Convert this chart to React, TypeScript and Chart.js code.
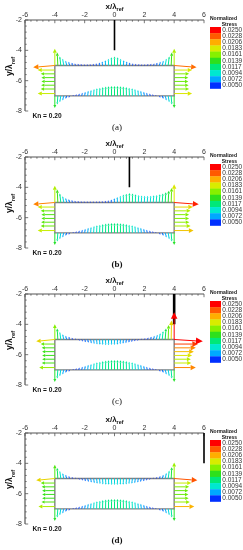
import React, { useEffect, useRef } from 'react';
import { Chart, registerables } from 'chart.js';

Chart.register(...registerables);

// ---------------- data ----------------
const PANEL_LABELS = ['(a)', '(b)', '(c)', '(d)'];
const PANEL_LABEL_BOLD = [false, true, false, true];
const PROBE_X = [0, 1, 4, 6];
const PROBE_WIDTH = [1.6, 1.6, 2.6, 1.6];
const PROBE_Y = [-2, -4];
const KN_TEXT = 'Kn = 0.20';

const BODY_X = [-4, 4, 4, -4, -4];
const BODY_Y = [-5, -5, -7, -7, -5];
const TOP_SURFACE_Y = -5;
const BOTTOM_SURFACE_Y = -7;
const LEFT_SIDE_X = -4;
const RIGHT_SIDE_X = 4;

const SURFACE_X = [
  -4.0, -3.8, -3.6, -3.4, -3.2, -3.0, -2.8, -2.6, -2.4, -2.2, -2.0, -1.8, -1.6, -1.4,
  -1.2, -1.0, -0.8, -0.6, -0.4, -0.2, 0.0, 0.2, 0.4, 0.6, 0.8, 1.0, 1.2, 1.4, 1.6, 1.8,
  2.0, 2.2, 2.4, 2.6, 2.8, 3.0, 3.2, 3.4, 3.6, 3.8, 4.0,
];

// vertical components of stress vectors on the top surface (per panel)
const TOP_DY_A = [
  1.10, 0.85, 0.60, 0.45, 0.32, 0.24, 0.18, 0.14, 0.12, 0.10, 0.09, 0.09, 0.10, 0.12,
  0.15, 0.20, 0.27, 0.35, 0.45, 0.55, 0.60, 0.55, 0.45, 0.35, 0.27, 0.20, 0.15, 0.12,
  0.10, 0.09, 0.09, 0.10, 0.12, 0.14, 0.18, 0.24, 0.32, 0.45, 0.60, 0.85, 1.10,
];
const TOP_DY_B = [
  1.10, 0.85, 0.60, 0.42, 0.30, 0.22, 0.16, 0.12, 0.10, 0.09, 0.08, 0.08, 0.08, 0.08,
  0.08, 0.09, 0.10, 0.12, 0.15, 0.20, 0.28, 0.36, 0.45, 0.53, 0.58, 0.62, 0.60, 0.55,
  0.50, 0.46, 0.44, 0.44, 0.45, 0.47, 0.50, 0.55, 0.60, 0.68, 0.78, 0.95, 1.20,
];
const TOP_DY_C = [
  1.00, 0.72, 0.50, 0.35, 0.25, 0.18, 0.12, 0.07, -0.08, -0.13, -0.18, -0.22, -0.26, -0.30,
  -0.33, -0.35, -0.37, -0.38, -0.38, -0.37, -0.36, -0.34, -0.31, -0.28, -0.24, -0.20, -0.16, -0.12,
  -0.08, 0.06, 0.09, 0.13, 0.18, 0.24, 0.32, 0.42, 0.55, 0.72, 0.95, 1.25, 1.80,
];
const TOP_DY_D = [
  0.90, 0.70, 0.50, 0.35, 0.24, 0.16, 0.10, 0.06, -0.08, -0.13, -0.18, -0.23, -0.27, -0.31,
  -0.34, -0.37, -0.39, -0.41, -0.42, -0.43, -0.43, -0.43, -0.42, -0.41, -0.39, -0.37, -0.34, -0.31,
  -0.27, -0.23, -0.18, -0.13, -0.08, 0.06, 0.10, 0.16, 0.25, 0.36, 0.52, 0.75, 1.05,
];

// horizontal components of stress vectors on the top surface (per panel)
const TOP_DX_A = [
  0, -0.04, -0.07, -0.08, -0.08, -0.08, -0.07, -0.07, -0.06, -0.06, -0.05, -0.05, -0.05, -0.04,
  -0.04, -0.03, -0.03, -0.02, -0.01, -0.01, 0, 0.01, 0.01, 0.02, 0.03, 0.03, 0.04, 0.04,
  0.05, 0.05, 0.05, 0.06, 0.06, 0.07, 0.07, 0.08, 0.08, 0.08, 0.07, 0.04, 0,
];
const TOP_DX_B = [
  0, -0.04, -0.07, -0.08, -0.08, -0.08, -0.07, -0.07, -0.06, -0.06, -0.06, -0.05, -0.05, -0.05,
  -0.04, -0.04, -0.04, -0.03, -0.03, -0.03, -0.02, -0.02, -0.01, -0.01, -0.01, 0, 0.01, 0.01,
  0.02, 0.02, 0.02, 0.02, 0.03, 0.03, 0.03, 0.04, 0.04, 0.04, 0.04, 0.03, 0,
];
const TOP_DX_C = [
  0, -0.04, -0.07, -0.08, -0.08, -0.07, -0.06, -0.05, 0.08, 0.08, 0.07, 0.06, 0.05, 0.04,
  0.03, 0.02, 0.01, 0.01, 0, 0, -0.01, -0.01, -0.02, -0.03, -0.04, -0.05, -0.06, -0.07,
  -0.08, 0.05, 0.06, 0.07, 0.08, 0.08, 0.08, 0.07, 0.06, 0.05, 0.03, 0.02, 0,
];
const TOP_DX_D = [
  0, -0.04, -0.07, -0.08, -0.08, -0.07, -0.06, -0.05, 0.08, 0.08, 0.07, 0.06, 0.05, 0.05,
  0.04, 0.03, 0.02, 0.02, 0.01, 0.01, 0, -0.01, -0.01, -0.02, -0.02, -0.03, -0.04, -0.05,
  -0.05, -0.06, -0.07, -0.08, -0.08, 0.05, 0.06, 0.07, 0.08, 0.08, 0.07, 0.04, 0,
];

// bottom surface (same in all panels)
const BOTTOM_DY = [
  -0.80, -0.57, -0.42, -0.30, -0.20, -0.12, 0.06, 0.10, 0.15, 0.21, 0.27, 0.33, 0.39, 0.45,
  0.50, 0.54, 0.58, 0.61, 0.63, 0.65, 0.65, 0.65, 0.63, 0.61, 0.58, 0.54, 0.50, 0.45,
  0.39, 0.33, 0.27, 0.21, 0.15, 0.10, 0.06, -0.12, -0.20, -0.30, -0.42, -0.57, -0.80,
];
const BOTTOM_DX = [
  0, -0.04, -0.07, -0.08, -0.08, -0.07, 0.06, 0.06, 0.05, 0.05, 0.04, 0.04, 0.03, 0.03,
  0.02, 0.02, 0.01, 0.01, 0, 0, 0, 0, 0, -0.01, -0.01, -0.02, -0.02, -0.03,
  -0.03, -0.04, -0.04, -0.05, -0.05, -0.06, -0.06, 0.07, 0.08, 0.08, 0.07, 0.04, 0,
];

// side faces
const SIDE_Y = [-5.0, -5.3, -5.55, -5.8, -6.05, -6.3, -6.55, -6.85];
const SIDE_DY = [-0.12, 0, 0, 0, 0, 0, 0, 0];
const LEFT_DX_A = [-1.45, -1.15, -0.95, -0.9, -0.9, -0.92, -0.95, -1.15];
const RIGHT_DX_A = [1.5, 1.2, 1.0, 0.95, 0.95, 0.97, 1.0, 1.2];
const LEFT_DX_B = [-1.45, -1.15, -0.95, -0.9, -0.9, -0.92, -0.95, -1.15];
const RIGHT_DX_B = [1.65, 1.25, 1.1, 1.0, 1.0, 1.02, 1.1, 1.3];
const LEFT_DX_C = [-1.25, -0.95, -0.88, -0.85, -0.85, -0.85, -0.88, -1.05];
const RIGHT_DX_C = [1.92, 1.6, 1.45, 1.32, 1.2, 1.12, 1.15, 1.45];
const LEFT_DX_D = [-1.25, -0.95, -0.88, -0.85, -0.85, -0.85, -0.9, -1.1];
const RIGHT_DX_D = [1.55, 1.15, 1.0, 0.95, 0.95, 0.97, 1.05, 1.35];

// colour legend
const LEGEND_LEVELS = [0.025, 0.0228, 0.0206, 0.0183, 0.0161, 0.0139, 0.0117, 0.0094, 0.0072, 0.005];
const LEGEND_LABELS = ['0.0250', '0.0228', '0.0206', '0.0183', '0.0161', '0.0139', '0.0117', '0.0094', '0.0072', '0.0050'];
const LEGEND_COLORS = [
  '#ff0000', '#ff5a00', '#ffae00', '#d8ec00', '#86f000',
  '#2ee01c', '#00e878', '#00e8d0', '#00a8ff', '#0030ff',
];
// normalized stress of a vector of unit plotted length
const STRESS_OFFSET = 0.0035;
const STRESS_PER_UNIT = 0.0125;

const PANELS = [
  { topDy: TOP_DY_A, topDx: TOP_DX_A, leftDx: LEFT_DX_A, rightDx: RIGHT_DX_A },
  { topDy: TOP_DY_B, topDx: TOP_DX_B, leftDx: LEFT_DX_B, rightDx: RIGHT_DX_B },
  { topDy: TOP_DY_C, topDx: TOP_DX_C, leftDx: LEFT_DX_C, rightDx: RIGHT_DX_C },
  { topDy: TOP_DY_D, topDx: TOP_DX_D, leftDx: LEFT_DX_D, rightDx: RIGHT_DX_D },
];

// ---------------- layout ----------------
const W = 243;
const H = 137;
const PANEL_TOPS = [0, 137, 274, 413];
const SANS = '"Liberation Sans", Arial, Helvetica, sans-serif';
const SERIF = '"Liberation Serif", "Times New Roman", serif';

function hexToRgb(h: string) {
  const n = parseInt(h.slice(1), 16);
  return [(n >> 16) & 255, (n >> 8) & 255, n & 255];
}

function colorForStress(s: number) {
  const lo = LEGEND_LEVELS[LEGEND_LEVELS.length - 1];
  const hi = LEGEND_LEVELS[0];
  let t = ((hi - s) / (hi - lo)) * (LEGEND_COLORS.length - 1);
  t = Math.max(0, Math.min(LEGEND_COLORS.length - 1, t));
  const i = Math.floor(t);
  const j = Math.min(LEGEND_COLORS.length - 1, i + 1);
  const f = t - i;
  const a = hexToRgb(LEGEND_COLORS[i]);
  const b = hexToRgb(LEGEND_COLORS[j]);
  const c = a.map((v, k) => Math.round(v + (b[k] - v) * f));
  return `rgb(${c[0]},${c[1]},${c[2]})`;
}

function drawArrow(ctx: CanvasRenderingContext2D, x0: number, y0: number, x1: number, y1: number, color: string) {
  const dx = x1 - x0;
  const dy = y1 - y0;
  const L = Math.hypot(dx, dy);
  if (L < 0.3) return;
  const ux = dx / L;
  const uy = dy / L;
  const hl = Math.min(L * 0.6, Math.max(1.8, L * 0.24));
  const hw = hl * 0.5;
  const bx = x1 - ux * hl;
  const by = y1 - uy * hl;
  ctx.strokeStyle = color;
  ctx.fillStyle = color;
  ctx.lineWidth = 1;
  ctx.beginPath();
  ctx.moveTo(x0, y0);
  ctx.lineTo(bx, by);
  ctx.stroke();
  ctx.beginPath();
  ctx.moveTo(x1, y1);
  ctx.lineTo(bx - uy * hw, by + ux * hw);
  ctx.lineTo(bx + uy * hw, by - ux * hw);
  ctx.closePath();
  ctx.fill();
}

function drawSubText(ctx: CanvasRenderingContext2D, main: string, sub: string, size: number, x: number, y: number) {
  ctx.font = `bold ${size}px ${SANS}`;
  const w1 = ctx.measureText(main).width;
  ctx.font = `bold ${size * 0.68}px ${SANS}`;
  const w2 = ctx.measureText(sub).width;
  const start = x - (w1 + w2) / 2;
  ctx.textAlign = 'left';
  ctx.textBaseline = 'alphabetic';
  ctx.font = `bold ${size}px ${SANS}`;
  ctx.fillText(main, start, y);
  ctx.font = `bold ${size * 0.68}px ${SANS}`;
  ctx.fillText(sub, start + w1, y + size * 0.3);
}

function makePlugin(idx: number) {
  const p = PANELS[idx];
  return {
    id: 'vectorPanel',
    beforeDatasetsDraw(chart: any) {
      const { ctx, chartArea: a, scales } = chart;
      const xs = scales.x;
      const ys = scales.y;
      ctx.save();
      ctx.strokeStyle = '#555';
      ctx.lineWidth = 1.2;
      ctx.beginPath();
      ctx.moveTo(a.left, a.top);
      ctx.lineTo(a.right, a.top);
      ctx.moveTo(a.left, a.top);
      ctx.lineTo(a.left, a.bottom);
      ctx.stroke();
      ctx.lineWidth = 0.8;
      ctx.beginPath();
      xs.ticks.forEach((t: any) => {
        const px = xs.getPixelForValue(t.value);
        ctx.moveTo(px, a.top);
        ctx.lineTo(px, a.top + 3.2);
      });
      ys.ticks.forEach((t: any) => {
        const py = ys.getPixelForValue(t.value);
        ctx.moveTo(a.left, py);
        ctx.lineTo(a.left + 3.2, py);
      });
      for (let k = 0; k <= 30; k++) {
        if (k % 5 === 0) continue;
        const px = xs.getPixelForValue(xs.min + k * 0.4);
        ctx.moveTo(px, a.top);
        ctx.lineTo(px, a.top + 1.7);
      }
      for (let k = 0; k <= 15; k++) {
        if (k % 5 === 0) continue;
        const py = ys.getPixelForValue(ys.max - k * 0.4);
        ctx.moveTo(a.left, py);
        ctx.lineTo(a.left + 1.7, py);
      }
      ctx.stroke();
      ctx.restore();
    },
    afterDatasetsDraw(chart: any) {
      const { ctx, scales } = chart;
      const xs = scales.x;
      const ys = scales.y;
      const list: any[] = [];
      SURFACE_X.forEach((x, i) => {
        list.push([x, TOP_SURFACE_Y, p.topDx[i], p.topDy[i]]);
        list.push([x, BOTTOM_SURFACE_Y, BOTTOM_DX[i], BOTTOM_DY[i]]);
      });
      SIDE_Y.forEach((y, i) => {
        list.push([LEFT_SIDE_X, y, p.leftDx[i], SIDE_DY[i]]);
        list.push([RIGHT_SIDE_X, y, p.rightDx[i], SIDE_DY[i]]);
      });
      list.sort((u, v) => Math.hypot(u[2], u[3]) - Math.hypot(v[2], v[3]));
      ctx.save();
      list.forEach(([x, y, dx, dy]) => {
        const mag = Math.hypot(dx, dy);
        const col = colorForStress(STRESS_OFFSET + STRESS_PER_UNIT * mag);
        drawArrow(
          ctx,
          xs.getPixelForValue(x),
          ys.getPixelForValue(y),
          xs.getPixelForValue(x + dx),
          ys.getPixelForValue(y + dy),
          col
        );
      });
      ctx.restore();
    },
    afterDraw(chart: any) {
      const { ctx, chartArea: a } = chart;
      ctx.save();
      ctx.fillStyle = '#111';
      // axis titles
      drawSubText(ctx, 'x/λ', 'ref', 8, (a.left + a.right) / 2, 8.8);
      ctx.save();
      ctx.translate(12.2, (a.top + a.bottom) / 2 + 1);
      ctx.rotate(-Math.PI / 2);
      drawSubText(ctx, 'y/λ', 'ref', 8.5, 0, 0);
      ctx.restore();
      // Kn label
      ctx.font = `bold 6.6px ${SANS}`;
      ctx.textAlign = 'left';
      ctx.textBaseline = 'middle';
      ctx.fillText(KN_TEXT, 32.5, a.top + 96);
      // panel label
      ctx.font = `${PANEL_LABEL_BOLD[idx] ? 'bold ' : ''}9px ${SERIF}`;
      ctx.textAlign = 'center';
      ctx.fillText(PANEL_LABELS[idx], 117, 127.5);
      // legend
      const lx = a.right + 6;
      const barTop = a.top + 7;
      const bh = 6.15;
      ctx.font = `bold 5px ${SANS}`;
      ctx.textBaseline = 'alphabetic';
      ctx.textAlign = 'left';
      ctx.fillText('Normalized', lx, a.top + 0.3);
      ctx.textAlign = 'right';
      ctx.fillText('Stress', lx + 27, a.top + 5.8);
      LEGEND_COLORS.forEach((c, i) => {
        ctx.fillStyle = c;
        ctx.fillRect(lx, barTop + i * bh, 11, bh + 0.3);
      });
      ctx.fillStyle = '#333';
      ctx.font = `6.5px ${SANS}`;
      ctx.textAlign = 'left';
      ctx.textBaseline = 'middle';
      LEGEND_LABELS.forEach((t, i) => {
        ctx.fillText(t, lx + 12.3, barTop + (i + 0.5) * bh);
      });
      ctx.restore();
    },
  };
}

function Panel({ idx }: { idx: number }) {
  const ref = useRef<HTMLCanvasElement | null>(null);
  useEffect(() => {
    const canvas = ref.current;
    if (!canvas) return;
    const tickFont = { family: SANS, size: 7 };
    const chart = new Chart(canvas, {
      type: 'scatter',
      data: {
        datasets: [
          {
            data: BODY_X.map((x, i) => ({ x, y: BODY_Y[i] })),
            showLine: true,
            borderColor: '#808080',
            borderWidth: 1.4,
            pointRadius: 0,
            fill: false,
            clip: false,
          } as any,
          {
            data: PROBE_Y.map((y) => ({ x: PROBE_X[idx], y })),
            showLine: true,
            borderColor: '#000',
            borderWidth: PROBE_WIDTH[idx],
            pointRadius: 0,
            fill: false,
            clip: false,
          } as any,
        ],
      },
      options: {
        responsive: false,
        animation: false,
        events: [],
        layout: { padding: { top: 0, left: 0, right: 39, bottom: 26 } },
        plugins: {
          legend: { display: false },
          tooltip: { enabled: false },
          title: { display: false },
        },
        scales: {
          x: {
            type: 'linear',
            position: 'top',
            min: -6,
            max: 6,
            ticks: { stepSize: 2, font: tickFont, color: '#333', padding: 1, maxRotation: 0, autoSkip: false },
            grid: { display: false, drawTicks: false },
            border: { display: false },
            afterFit: (s: any) => {
              s.height = 20;
            },
          },
          y: {
            type: 'linear',
            position: 'left',
            min: -8,
            max: -2,
            ticks: { stepSize: 2, font: tickFont, color: '#333', padding: 3, autoSkip: false },
            grid: { display: false, drawTicks: false },
            border: { display: false },
            afterFit: (s: any) => {
              s.width = 25;
            },
          },
        },
      } as any,
      plugins: [makePlugin(idx) as any],
    });
    return () => chart.destroy();
  }, [idx]);
  return (
    <canvas
      ref={ref}
      width={W}
      height={H}
      style={{ position: 'absolute', left: 0, top: PANEL_TOPS[idx], width: W, height: H }}
    />
  );
}

export default function App() {
  return (
    <div
      style={{
        position: 'absolute',
        left: 0,
        top: 0,
        width: W,
        height: 550,
        background: '#fff',
        overflow: 'hidden',
      }}
    >
      {PANELS.map((_, i) => (
        <Panel key={i} idx={i} />
      ))}
    </div>
  );
}
